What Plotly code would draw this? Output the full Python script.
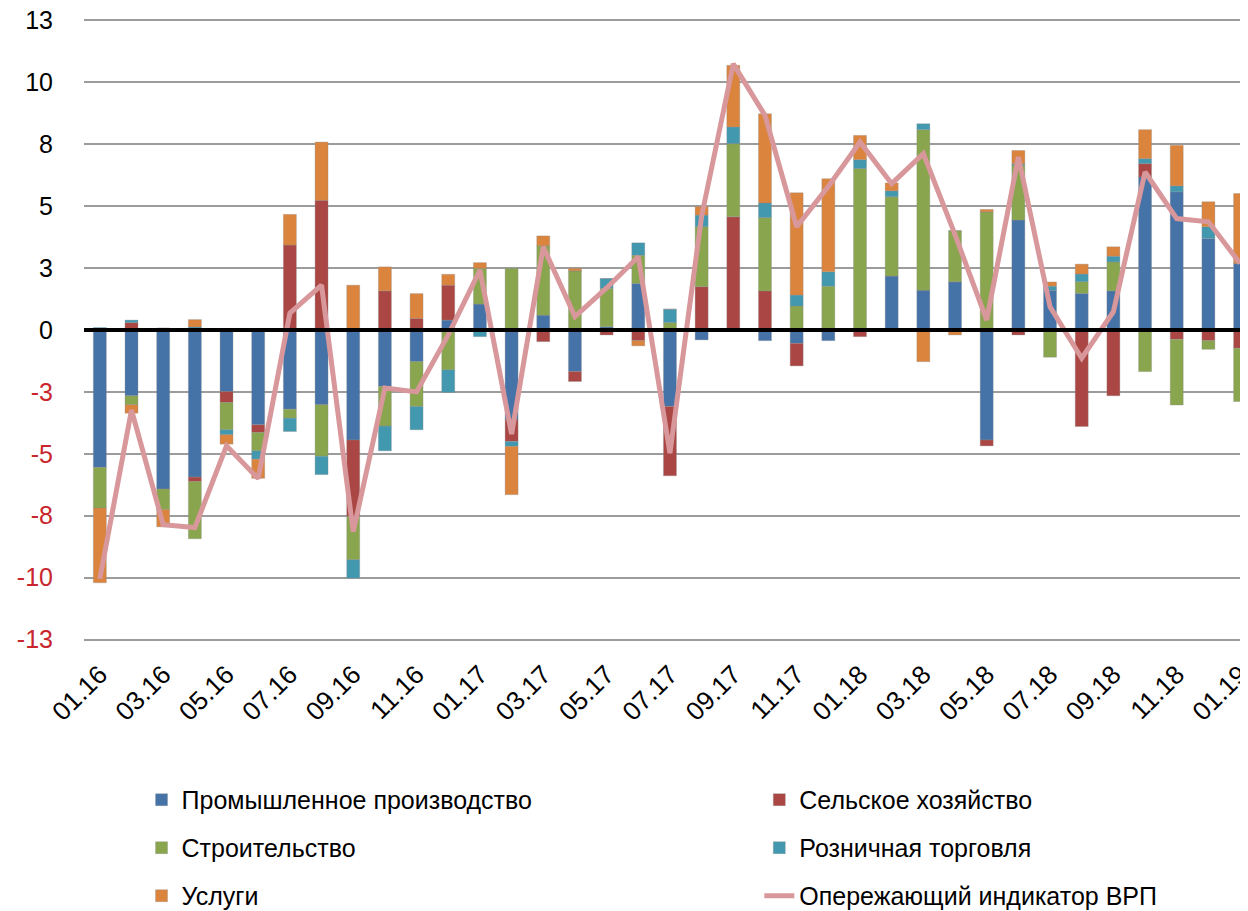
import plotly.graph_objects as go

months = ["01.16","02.16","03.16","04.16","05.16","06.16","07.16","08.16","09.16","10.16","11.16","12.16",
          "01.17","02.17","03.17","04.17","05.17","06.17","07.17","08.17","09.17","10.17","11.17","12.17",
          "01.18","02.18","03.18","04.18","05.18","06.18","07.18","08.18","09.18","10.18","11.18","12.18",
          "01.19"]

industry = [-5.55,-2.66,-6.42,-5.94,-2.49,-3.83,-3.20,-3.02,-4.44,-2.28,-1.28,0.40,
            1.05,-3.63,0.60,-1.68,0.13,1.88,-3.09,-0.40,0.00,-0.43,-0.54,-0.43,
            0.00,2.18,1.61,1.95,-4.44,4.44,1.60,1.48,1.58,6.18,5.58,3.70,
            2.69]
agriculture = [0.00,0.30,0.07,-0.18,-0.44,-0.31,3.43,5.24,-3.09,1.58,0.47,1.41,
               0.00,-0.87,-0.47,-0.40,-0.20,-0.43,-2.80,1.75,4.57,1.58,-0.91,0.00,
               -0.27,0.00,0.00,0.00,-0.24,-0.20,0.00,-3.90,-2.66,0.54,-0.38,-0.43,
               -0.74]
construction = [-1.64,-0.36,-0.83,-2.31,-1.10,-0.74,-0.36,-2.08,-1.75,-1.60,-1.81,-1.61,
                1.44,2.49,2.80,2.39,1.55,1.14,0.30,2.42,2.96,2.96,0.97,1.77,
                6.52,3.20,6.48,2.06,4.77,2.22,-1.10,0.47,1.17,-1.68,-2.65,-0.35,
                -2.15]
retail = [0.10,0.10,0.00,0.12,-0.20,-0.34,-0.54,-0.74,-0.74,-1.00,-0.94,-0.91,
          -0.27,-0.20,0.00,0.00,0.40,0.50,0.54,0.47,0.67,0.59,0.44,0.58,
          0.36,0.24,0.24,0.00,0.00,0.05,0.17,0.31,0.23,0.20,0.24,0.47,
          0.00]
services = [-3.02,-0.34,-0.70,0.30,-0.38,-0.77,1.24,2.35,1.81,0.97,1.00,0.44,
            0.23,-1.95,0.40,0.10,0.00,-0.21,0.00,0.34,2.49,3.60,4.13,3.76,
            0.98,0.32,-1.28,-0.20,0.10,0.54,0.17,0.40,0.38,1.17,1.64,1.01,
            2.82]
grp_indicator = [-10.05,-3.23,-7.86,-7.98,-4.68,-6.00,0.68,1.81,-8.15,-2.34,-2.50,-0.20,
                 2.42,-4.20,3.36,0.54,1.70,2.96,-4.97,4.60,10.75,8.67,4.17,5.80,
                 7.59,5.91,7.12,3.85,0.40,6.99,0.94,-1.14,0.74,6.38,4.50,4.37,
                 2.69]

series_names = ["Промышленное производство", "Сельское хозяйство", "Строительство",
                "Розничная торговля", "Услуги"]
line_name = "Опережающий индикатор ВРП"

ytick_vals = [12.5, 10, 7.5, 5, 2.5, 0, -2.5, -5, -7.5, -10, -12.5]
ytick_text = ["13", "10", "8", "5", "3", "0", "-3", "-5", "-8", "-10", "-13"]
xtick_vals = months[::2]

colors = ["#4572A7", "#AA4643", "#89A54E", "#4198AF", "#DB843D"]
line_color = "#D8979A"
neg_color = "#C8262C"
FONT = "Liberation Sans, Arial, sans-serif"

fig = go.Figure()
bar_data = [industry, agriculture, construction, retail, services]
legends = ["legend", "legend2", "legend", "legend2", "legend"]
for name, vals, col, lg in zip(series_names, bar_data, colors, legends):
    fig.add_trace(go.Bar(
        x=months, y=vals, name=name,
        marker=dict(color=col, line=dict(width=0.6, color="rgba(140,140,140,0.55)")),
        legend=lg, legendgroup=name,
    ))
fig.add_trace(go.Scatter(
    x=months, y=grp_indicator, name=line_name, mode="lines",
    line=dict(color=line_color, width=5), legend="legend2", legendgroup=line_name,
))

ytext = [f'<span style="color:{neg_color}">{t}</span>' if v < 0 else t
         for v, t in zip(ytick_vals, ytick_text)]

legend_common = dict(xref="container", yref="container", xanchor="left", yanchor="top",
                     orientation="v", tracegroupgap=12.5, font=dict(size=25),
                     traceorder="grouped", bgcolor="rgba(0,0,0,0)")

# the page body adds an 8px offset, so the figure is 8px smaller than the window
fig.update_layout(
    width=1240, height=903,
    margin=dict(l=76, r=0, t=10.5, b=269.5, autoexpand=False),
    paper_bgcolor="white", plot_bgcolor="white",
    barmode="relative", bargap=0.59,
    font=dict(family=FONT, size=22, color="black"),
    showlegend=True,
    legend=dict(x=0.1077, y=0.1485, **legend_common),
    legend2=dict(x=0.6059, y=0.1485, **legend_common),
    xaxis=dict(
        type="category", range=[-0.5, 36.25], automargin=False,
        tickmode="array", tickvals=xtick_vals, ticktext=xtick_vals,
        tickangle=-45, showgrid=False, showline=False, zeroline=False,
        ticks="", tickfont=dict(size=26), ticklabelstandoff=12,
        ticklabeloverflow="allow",
    ),
    yaxis=dict(
        range=[-12.56, 12.56], tickmode="array", tickvals=ytick_vals, ticktext=ytext,
        automargin=False, ticklabeloverflow="allow",
        showgrid=True, gridcolor="#9C9C9C", gridwidth=1.6, zeroline=False,
        showline=False, ticks="", tickfont=dict(size=25), ticklabelstandoff=30,
    ),
    shapes=[dict(type="line", xref="paper", yref="y", x0=0, x1=1, y0=0, y1=0,
                 line=dict(color="black", width=4), layer="above")],
)

fig.write_html("out.html")
